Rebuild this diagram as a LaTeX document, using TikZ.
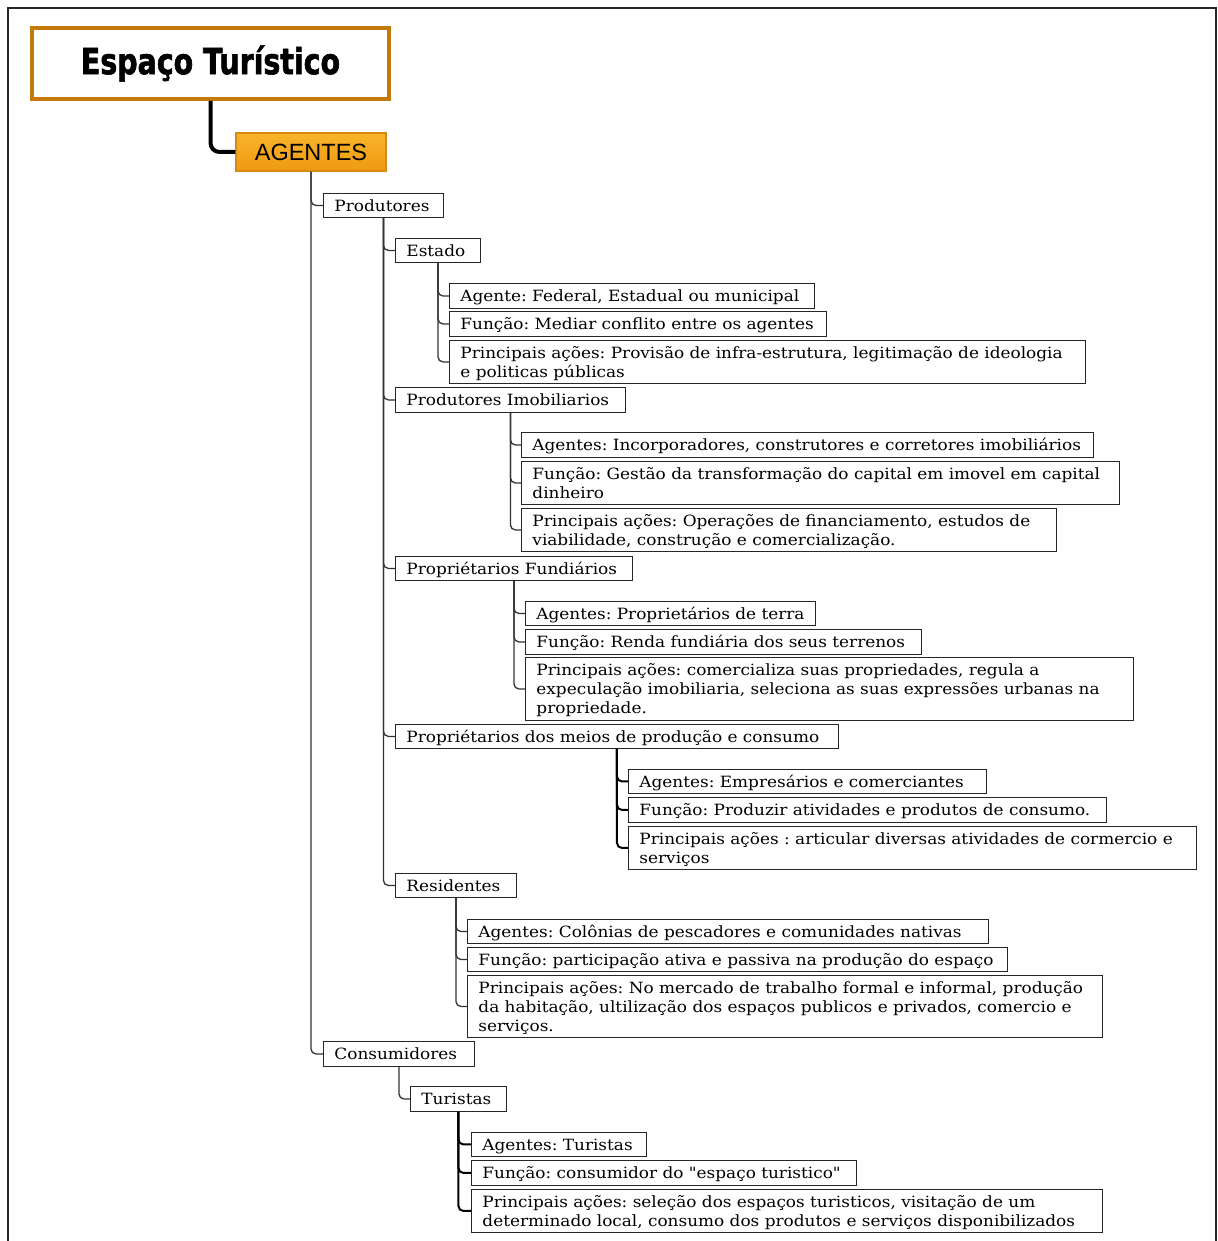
\documentclass[tikz,border=0pt]{standalone}
\usepackage{fontspec}
\setmainfont{DejaVu Serif}
\newfontfamily\titlefont{DejaVu Sans}[FakeStretch=0.79,FakeBold=1.6]
\newfontfamily\agfont{Liberation Sans}
\newfontfamily\bodyfont{DejaVu Serif}[FakeStretch=1.09]
\definecolor{titleborder}{HTML}{C47A0A}
\definecolor{agtop}{HTML}{F8B42A}
\definecolor{agbot}{HTML}{EE9A12}
\definecolor{agborder}{HTML}{D88A10}
\tikzset{
  bx/.style={draw=black!85, line width=0.9pt, fill=white, anchor=north west,
    inner xsep=11pt, inner ysep=0pt,
    font=\bodyfont\fontsize{15.5}{19}\selectfont\frenchspacing},
  conn/.style={draw=black!80, line width=1.3pt, rounded corners=5pt},
  connk/.style={draw=black, line width=2pt, rounded corners=5pt},
}
\newcommand\bx[6]{\pgfmathsetmacro\tw{#4-22}%
  \node[bx, minimum height=#5pt] (#1) at (#2,#3)
    {\makebox[\tw pt][l]{\begin{tabular}{@{}l@{}}\rule{0pt}{17.3pt}#6\end{tabular}}};}
\begin{document}
\frenchspacing
\begin{tikzpicture}[x=1pt,y=-1pt]
\useasboundingbox (0,0) rectangle (1217,1241);
\fill[white] (0,0) rectangle (1217,1241);
% frame
\draw[black!85, line width=2.6pt] (8,1245) -- (8,8) -- (1216,8) -- (1216,1245);

% title
\node[draw=titleborder, line width=4pt, fill=white, minimum width=357pt, minimum height=71pt,
  font=\titlefont\bfseries\fontsize{36}{36}\selectfont] (title) at (210.5,63.5) {Espaço Turístico};
\node[draw=agborder, line width=1.2pt, top color=agtop, bottom color=agbot,
  minimum width=150pt, minimum height=38pt, inner sep=0pt,
  font=\agfont\fontsize{23.5}{23.5}\selectfont] (ag) at (311,152) {AGENTES};
\draw[line width=4pt, rounded corners=9pt] (title.south) |- (ag.west);

% boxes
\bx{prod}{323}{193}{120}{24}{Produtores}
\bx{estado}{395}{238}{85}{24}{Estado}
\bx{e1}{449}{283}{365}{25}{Agente: Federal, Estadual ou municipal}
\bx{e2}{449}{311}{377}{25}{Função: Mediar conflito entre os agentes}
\bx{e3}{449}{340}{636}{43}{Principais ações: Provisão de infra-estrutura, legitimação de ideologia\\e politicas públicas}
\bx{imob}{395}{387}{230}{25}{Produtores Imobiliarios}
\bx{i1}{521}{432}{572}{25}{Agentes: Incorporadores, construtores e corretores imobiliários}
\bx{i2}{521}{461}{598}{43}{Função: Gestão da transformação do capital em imovel em capital\\dinheiro}
\bx{i3}{521}{508}{535}{43}{Principais ações: Operações de financiamento, estudos de\\viabilidade, construção e comercialização.}
\bx{fund}{395}{556}{237}{24}{Propriétarios Fundiários}
\bx{f1}{525}{601}{290}{24}{Agentes: Proprietários de terra}
\bx{f2}{525}{629}{396}{25}{Função: Renda fundiária dos seus terrenos}
\bx{f3}{525}{657}{608}{63}{Principais ações: comercializa suas propriedades, regula a\\expeculação imobiliaria, seleciona as suas expressões urbanas na\\propriedade.}
\bx{meios}{395}{724}{443}{24}{Propriétarios dos meios de produção e consumo}
\bx{m1}{628}{769}{358}{24}{Agentes: Empresários e comerciantes}
\bx{m2}{628}{797}{478}{25}{Função: Produzir atividades e produtos de consumo.}
\bx{m3}{628}{826}{568}{43}{Principais ações : articular diversas atividades de cormercio e\\serviços}
\bx{res}{395}{873}{121}{24}{Residentes}
\bx{r1}{467}{919}{521}{24}{Agentes: Colônias de pescadores e comunidades nativas}
\bx{r2}{467}{947}{540}{24}{Função: participação ativa e passiva na produção do espaço}
\bx{r3}{467}{975}{635}{62}{Principais ações: No mercado de trabalho formal e informal, produção\\da habitação, ultilização dos espaços publicos e privados, comercio e\\serviços.}
\bx{cons}{323}{1041}{151}{25}{Consumidores}
\bx{tur}{410}{1086}{96}{25}{Turistas}
\bx{t1}{471}{1132}{175}{24}{Agentes: Turistas}
\bx{t2}{471}{1160}{385}{25}{Função: consumidor do "espaço turistico"}
\bx{t3}{471}{1189}{631}{43}{Principais ações: seleção dos espaços turisticos, visitação de um\\determinado local, consumo dos produtos e serviços disponibilizados}

% connectors
\foreach \c in {prod,cons} \draw[conn] (ag.south) |- (\c.west);
\foreach \c in {estado,imob,fund,meios,res} \draw[conn] (prod.south) |- (\c.west);
\foreach \c in {e1,e2,e3} \draw[conn] (estado.south) |- (\c.west);
\foreach \c in {i1,i2,i3} \draw[conn] (imob.south) |- (\c.west);
\foreach \c in {f1,f2,f3} \draw[conn] (fund.south) |- (\c.west);
\foreach \c in {m1,m2,m3} \draw[connk] (meios.south) |- (\c.west);
\foreach \c in {r1,r2,r3} \draw[conn] (res.south) |- (\c.west);
\draw[conn] (cons.south) |- (tur.west);
\foreach \c in {t1,t2,t3} \draw[connk] (tur.south) |- (\c.west);
\end{tikzpicture}
\end{document}
